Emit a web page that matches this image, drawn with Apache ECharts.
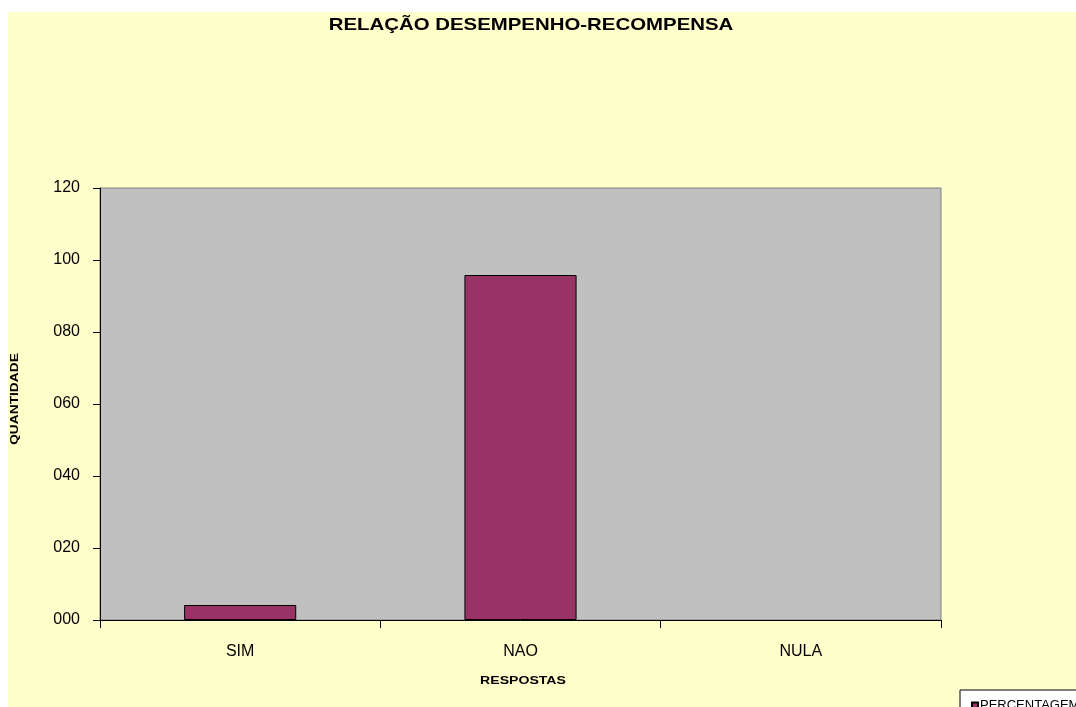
<!DOCTYPE html>
<html>
<head>
<meta charset="utf-8">
<script src="https://cdn.jsdelivr.net/npm/echarts@6/dist/echarts.min.js"></script>
<style>
html,body{margin:0;padding:0;background:#fff;}
#c{width:1076px;height:707px;}
</style>
</head>
<body>
<div id="c"></div>
<script>
const categories = ['SIM', 'NAO', 'NULA'];
const seriesName = 'PERCENTAGEM';
const values = [4.17, 95.83, 0];
const yTicks = [0, 20, 40, 60, 80, 100, 120];

const chart = echarts.init(document.getElementById('c'), null, {renderer: 'canvas'});
const font = '"Liberation Sans", Arial, sans-serif';
chart.setOption({
  backgroundColor: '#ffffff',
  animation: false,
  graphic: [
    {type: 'rect', z: -10, shape: {x: 8, y: 12, width: 1068, height: 695}, style: {fill: '#FFFFCC'}},
    {type: 'text', x: 531, y: 25, scaleX: 1.2, style: {text: 'RELAÇÃO DESEMPENHO-RECOMPENSA', font: 'bold 17px ' + font, fill: '#000', textAlign: 'center', textVerticalAlign: 'middle'}},
    {type: 'text', x: 15, y: 399, rotation: Math.PI / 2, scaleX: 1.25, style: {text: 'QUANTIDADE', font: 'bold 11px ' + font, fill: '#000', textAlign: 'center', textVerticalAlign: 'middle'}},
    {type: 'text', x: 523, y: 681, scaleX: 1.28, style: {text: 'RESPOSTAS', font: 'bold 11px ' + font, fill: '#000', textAlign: 'center', textVerticalAlign: 'middle'}}
  ],
  legend: {
    left: 960, top: 690,
    data: [seriesName],
    backgroundColor: '#ffffff',
    borderColor: '#000', borderWidth: 1, borderRadius: 0,
    padding: [9, 4, 6, 11],
    itemWidth: 6, itemHeight: 6, itemGap: 2,
    icon: 'rect',
    textStyle: {fontFamily: font, fontSize: 13, color: '#000', padding: [0,0,0,-3]}
  },
  grid: {left: 100, right: 135, top: 188, bottom: 87, show: true, backgroundColor: '#C0C0C0', borderColor: '#808080', borderWidth: 1},
  xAxis: {
    type: 'category', data: categories,
    axisLine: {show: true, lineStyle: {color: '#000', width: 1}},
    axisTick: {show: true, length: 8, alignWithLabel: false, lineStyle: {color: '#000'}},
    axisLabel: {margin: 24, fontFamily: font, fontSize: 16, color: '#000'},
    splitLine: {show: false}
  },
  yAxis: {
    type: 'value', min: 0, max: 120, interval: 20,
    axisLine: {show: true, lineStyle: {color: '#000', width: 1}},
    axisTick: {show: true, length: 7, lineStyle: {color: '#000'}},
    axisLabel: {margin: 20, fontFamily: font, fontSize: 16, color: '#000',
      formatter: v => yTicks.includes(v) ? String(v).padStart(3, '0') : ''},
    splitLine: {show: false}
  },
  series: [{
    name: seriesName, type: 'bar', barWidth: '40%',
    data: values.map(v => v === 0 ? {value: v, itemStyle: {borderWidth: 0, opacity: 0}} : v),
    itemStyle: {color: '#993366', borderColor: '#000', borderWidth: 1}
  }]
});
</script>
</body>
</html>
